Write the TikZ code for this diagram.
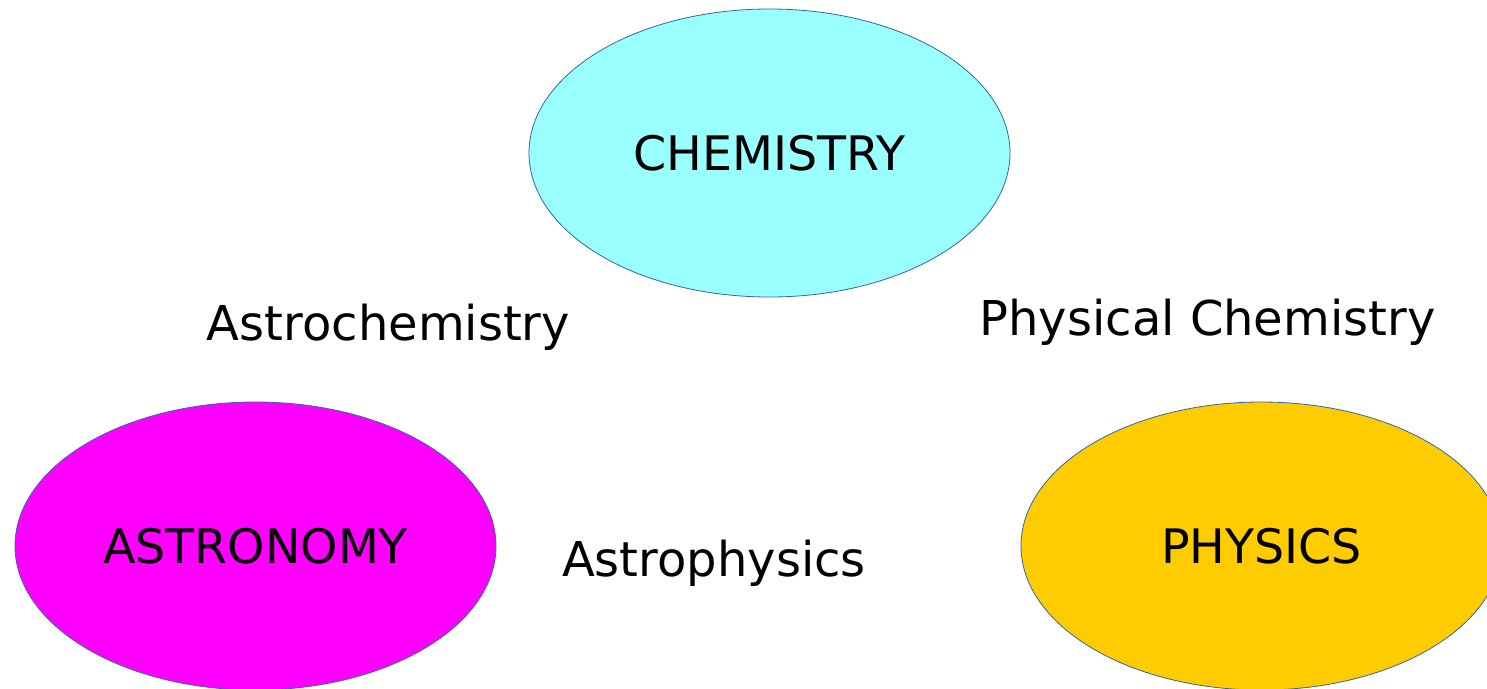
\documentclass[tikz,border=0pt]{standalone}
\usepackage{fontspec}
\setmainfont{DejaVu Sans}
\usetikzlibrary{shapes.geometric}
\definecolor{chemfill}{HTML}{99FFFF}
\definecolor{astrofill}{HTML}{FF00FF}
\definecolor{physfill}{HTML}{FFCC00}
\definecolor{edgeblue}{HTML}{3465A4}
\tikzset{
  field/.style={ellipse, draw=edgeblue, line width=0.8pt, minimum width=481pt, minimum height=288pt, inner sep=0pt, font=\fontsize{47.5}{50}\selectfont},
  linklabel/.style={anchor=base, inner sep=0pt, font=\fontsize{48}{50}\selectfont}
}
\begin{document}
\begin{tikzpicture}[x=1pt,y=1pt]
\useasboundingbox (0,0) rectangle (1487,-688);
\clip (0,0) rectangle (1487,-688);
\fill[white] (0,0) rectangle (1487,-688);
\node[field, fill=chemfill] (chem) at (769.5,-153) {CHEMISTRY};
\node[field, fill=astrofill] (astro) at (255.5,-546) {ASTRONOMY};
\node[field, fill=physfill] (phys) at (1261.5,-546) {PHYSICS};
\node[linklabel] (astrochem) at (388.5,-340) {Astrochemistry};
\node[linklabel] (physchem) at (1207.5,-335) {Physical Chemistry};
\node[linklabel] (astrophys) at (714,-576) {Astrophysics};
\end{tikzpicture}
\end{document}
